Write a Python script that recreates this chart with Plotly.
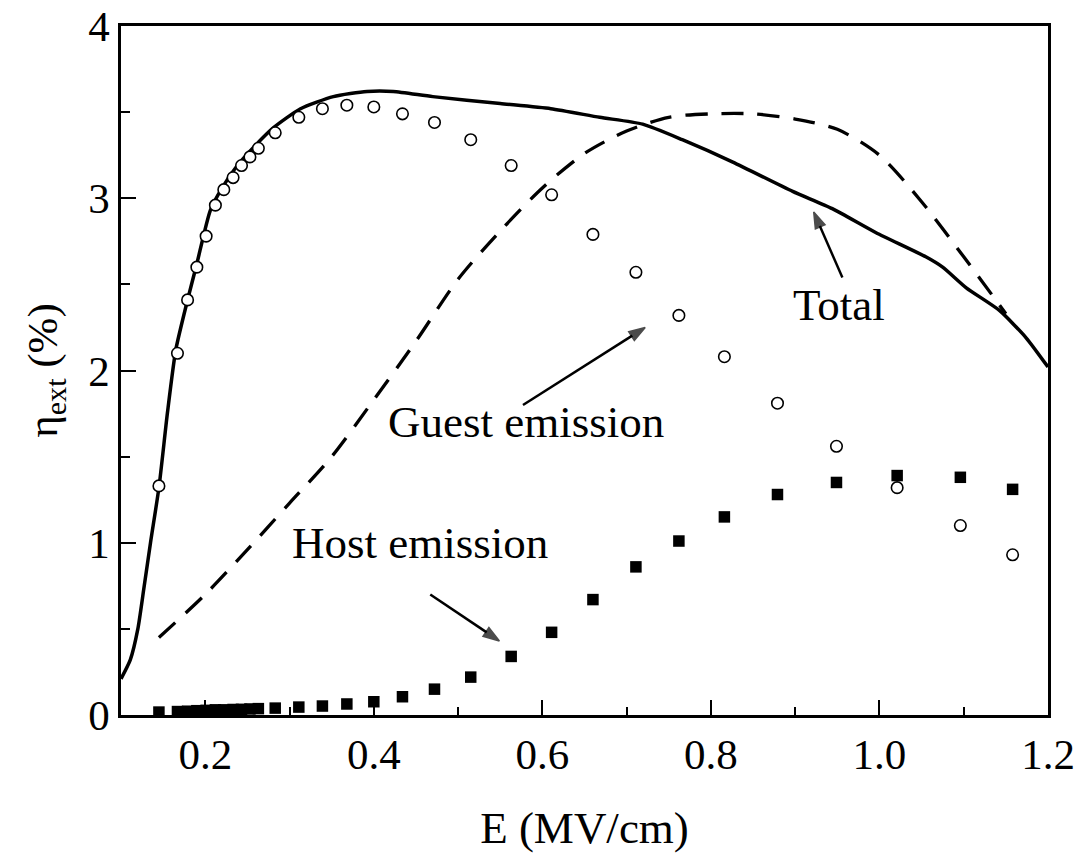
import plotly.graph_objects as go

# Electric field (MV/cm) at which the emission was measured
field = [0.145, 0.167, 0.179, 0.190, 0.201, 0.212, 0.222, 0.233, 0.243, 0.253,
         0.263, 0.283, 0.311, 0.339, 0.368, 0.400, 0.434, 0.472, 0.515, 0.563,
         0.611, 0.660, 0.711, 0.762, 0.816, 0.879, 0.949, 1.021, 1.096, 1.158]

# External quantum efficiency (%) of the guest (open circles) and host (filled squares)
guest_eta = [1.33, 2.10, 2.41, 2.60, 2.78, 2.96, 3.05, 3.12, 3.19, 3.24,
             3.29, 3.38, 3.47, 3.52, 3.54, 3.53, 3.49, 3.44, 3.34, 3.19,
             3.02, 2.79, 2.57, 2.32, 2.08, 1.81, 1.56, 1.32, 1.10, 0.93]
host_eta = [0.017, 0.020, 0.022, 0.025, 0.027, 0.030, 0.030, 0.032, 0.033, 0.035,
            0.037, 0.040, 0.046, 0.052, 0.064, 0.077, 0.106, 0.150, 0.220, 0.340,
            0.480, 0.670, 0.860, 1.010, 1.150, 1.280, 1.350, 1.390, 1.380, 1.310]

# Total efficiency curve (solid)
total_E = [0.100, 0.111, 0.120, 0.127, 0.135, 0.145, 0.155, 0.165, 0.179, 0.190,
           0.206, 0.220, 0.238, 0.260, 0.281, 0.313, 0.352, 0.392, 0.423, 0.470,
           0.550, 0.610, 0.668, 0.719, 0.766, 0.826, 0.897, 0.944, 0.996, 1.055,
           1.075, 1.103, 1.142, 1.174, 1.200]
total_eta = [0.21, 0.32, 0.50, 0.73, 1.00, 1.32, 1.75, 2.12, 2.41, 2.62,
             2.93, 3.06, 3.19, 3.31, 3.41, 3.52, 3.59, 3.62, 3.62, 3.59,
             3.55, 3.52, 3.47, 3.43, 3.34, 3.21, 3.04, 2.94, 2.80, 2.66,
             2.60, 2.48, 2.35, 2.19, 2.02]

# Guest emission curve (dashed)
guest_E = [0.145, 0.200, 0.250, 0.300, 0.350, 0.400, 0.450, 0.500, 0.550, 0.600,
           0.650, 0.700, 0.750, 0.800, 0.850, 0.900, 0.950, 1.000, 1.050, 1.100,
           1.150]
guest_curve = [0.45, 0.70, 0.96, 1.23, 1.50, 1.83, 2.17, 2.53, 2.81, 3.06,
               3.26, 3.39, 3.47, 3.49, 3.49, 3.46, 3.40, 3.25, 2.98, 2.66,
               2.33]

x_ticks = [0.2, 0.4, 0.6, 0.8, 1.0, 1.2]
x_ticktext = ["0.2", "0.4", "0.6", "0.8", "1.0", "1.2"]
y_ticks = [0, 1, 2, 3, 4]

# Label pointers: tail (E, eta) -> head (E, eta)
arrow_tail_E = [0.956, 0.577, 0.467]
arrow_tail_eta = [2.54, 1.80, 0.70]
arrow_head_E = [0.922, 0.722, 0.549]
arrow_head_eta = [2.92, 2.25, 0.43]

labels = ["Total", "Guest emission", "Host emission"]
label_E = [0.952, 0.580, 0.455]
label_eta = [2.38, 1.70, 1.00]

FONT = "Liberation Serif, Times New Roman, serif"

fig = go.Figure()

fig.add_trace(go.Scatter(x=total_E, y=total_eta, mode="lines",
                         line=dict(color="black", width=3.5, shape="spline", smoothing=0.6),
                         name="Total"))
fig.add_trace(go.Scatter(x=guest_E, y=guest_curve, mode="lines",
                         line=dict(color="black", width=3.3, dash="22px,14px",
                                   shape="spline", smoothing=0.8),
                         name="Guest emission"))
fig.add_trace(go.Scatter(x=field, y=host_eta, mode="markers",
                         marker=dict(symbol="square", size=11.5, color="black",
                                     line=dict(width=0)),
                         name="Host"))
fig.add_trace(go.Scatter(x=field, y=guest_eta, mode="markers",
                         marker=dict(symbol="circle", size=11.5, color="white",
                                     line=dict(color="black", width=1.6)),
                         name="Guest"))

# Pointer arrows: a shaft plus a rotated arrowhead marker at the head end
for tx, ty, hx, hy in zip(arrow_tail_E, arrow_tail_eta, arrow_head_E, arrow_head_eta):
    fig.add_trace(go.Scatter(x=[tx, hx], y=[ty, hy], mode="lines+markers",
                             line=dict(color="black", width=2.5),
                             marker=dict(symbol="arrow", size=[0, 17], color="black",
                                         angleref="previous",
                                         line=dict(width=1.5, color="black")),
                             hoverinfo="skip"))

for txt, lx, ly in zip(labels, label_E, label_eta):
    fig.add_annotation(x=lx, y=ly, xref="x", yref="y", text=txt, showarrow=False,
                       font=dict(family=FONT, size=45, color="black"))

axis_common = dict(showgrid=False, zeroline=False, showline=True, linecolor="black",
                   linewidth=2.5, mirror=True, ticks="inside", ticklen=15,
                   tickwidth=2, tickcolor="black", automargin=False,
                   tickfont=dict(family=FONT, size=43, color="black"))

fig.update_xaxes(range=[0.1, 1.2], tickvals=x_ticks, ticktext=x_ticktext,
                 minor=dict(dtick=0.1, tick0=0.1, ticks="inside", ticklen=8,
                            tickwidth=2, tickcolor="black"),
                 title=dict(text="E (MV/cm)", font=dict(family=FONT, size=45, color="black"),
                            standoff=40),
                 **axis_common)
fig.update_yaxes(range=[0, 4], tickvals=y_ticks,
                 minor=dict(dtick=0.5, tick0=0, ticks="inside", ticklen=9,
                            tickwidth=2, tickcolor="black"),
                 title=dict(text="η<sub>ext</sub> (%)",
                            font=dict(family=FONT, size=43, color="black"),
                            standoff=18),
                 **axis_common)

fig.update_layout(width=1084, height=853, showlegend=False,
                  plot_bgcolor="white", paper_bgcolor="white",
                  margin=dict(l=121, r=36, t=26, b=138))

fig.write_html("out.html")
